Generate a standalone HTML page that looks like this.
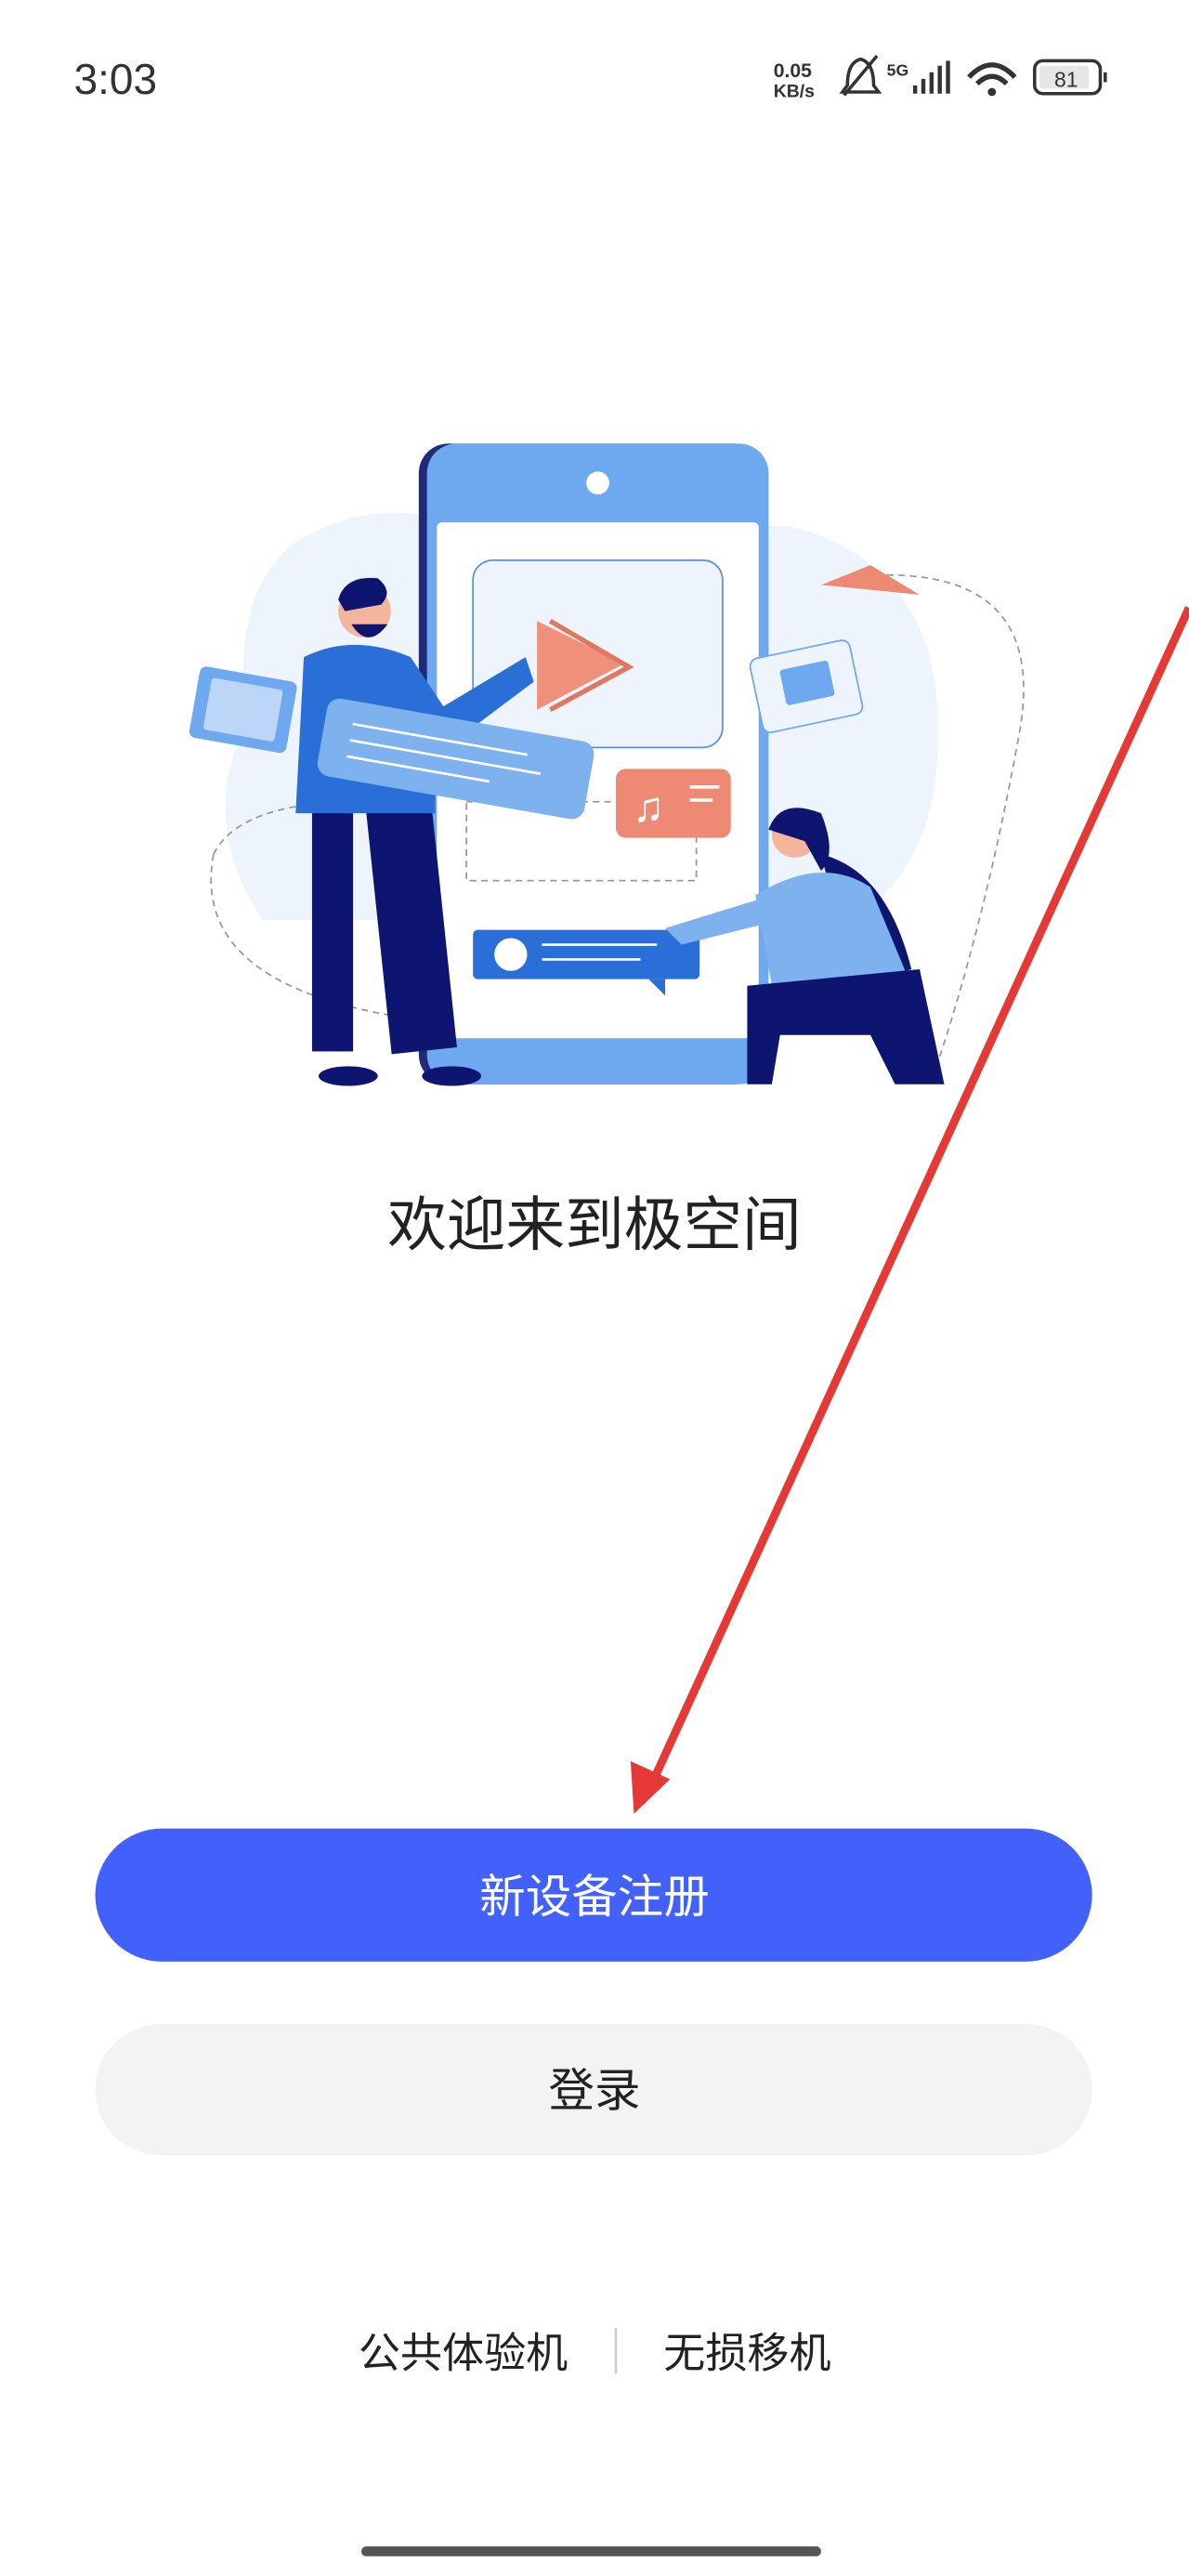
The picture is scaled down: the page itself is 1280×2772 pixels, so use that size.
<!DOCTYPE html>
<html><head><meta charset="utf-8"><style>
html,body{margin:0;padding:0;background:#fff;}
svg{display:block;}
text{font-family:"Liberation Sans","Noto Sans CJK SC",sans-serif;}
</style></head><body>
<svg width="1280" height="2772" viewBox="0 0 724 1568" xmlns="http://www.w3.org/2000/svg">
<rect width="724" height="1568" fill="#fff"/>
<text x="45" y="57" font-size="26" fill="#333">3:03</text>
<text x="471" y="47" font-size="12" font-weight="bold" fill="#333">0.05</text>
<text x="471" y="59" font-size="11" font-weight="bold" fill="#333">KB/s</text>
<path d="M516 52 Q516 38 524 36 Q532 38 532 52 L535 56 L513 56 Z" fill="none" stroke="#333" stroke-width="2"/>
<line x1="514" y1="58" x2="534" y2="34" stroke="#333" stroke-width="2"/>
<text x="540" y="46" font-size="10" font-weight="bold" fill="#333">5G</text>
<rect x="556" y="52" width="2.5" height="5" fill="#333"/><rect x="561" y="48" width="2.5" height="9" fill="#333"/><rect x="566" y="44" width="2.5" height="13" fill="#333"/><rect x="571" y="40" width="2.5" height="17" fill="#333"/><rect x="576" y="37" width="2.5" height="20" fill="#333"/>
<path d="M590 47 Q604 32 618 47" fill="none" stroke="#333" stroke-width="3"/><path d="M595 51 Q604 42 613 51" fill="none" stroke="#333" stroke-width="3"/><circle cx="604" cy="56" r="2.5" fill="#333"/>
<rect x="630" y="37" width="40" height="20" rx="5" fill="none" stroke="#333" stroke-width="2"/>
<rect x="633" y="40" width="30" height="14" rx="2" fill="#e6e6e6"/>
<text x="642" y="53" font-size="13" fill="#333">81</text>
<rect x="672" y="44" width="2" height="6" fill="#333"/>
<path d="M180 330 Q230 300 280 320 L480 320 Q560 340 570 420 Q580 520 520 560 L160 560 Q120 500 150 440 Q140 360 180 330Z" fill="#eef4fc"/>
<path d="M130 520 Q150 480 260 490 M130 520 Q115 600 250 620" fill="none" stroke="#999" stroke-dasharray="4 3"/>
<path d="M540 350 Q640 350 620 450 Q600 560 570 650" fill="none" stroke="#999" stroke-dasharray="4 3"/>
<rect x="255" y="270" width="210" height="390" rx="18" fill="#1f2a7a"/>
<rect x="260" y="270" width="208" height="390" rx="18" fill="#6ea8ef"/>
<rect x="266" y="318" width="196" height="314" rx="3" fill="#fff"/>
<circle cx="364" cy="294" r="7" fill="#fff"/>
<rect x="288" y="341" width="152" height="114" rx="12" fill="#eef4fc" stroke="#5b8fd8"/>
<path d="M327 378 L380 404 L327 432 Z" fill="#f0907a"/>
<path d="M335 378 L383 406 L335 432" fill="none" stroke="#e07860" stroke-width="3"/>
<rect x="284" y="488" width="140" height="48" fill="none" stroke="#999" stroke-dasharray="4 3"/>
<rect x="375" y="468" width="70" height="42" rx="6" fill="#ee8a74"/>
<text x="385" y="500" font-size="26" fill="#fff">♫</text>
<rect x="420" y="478" width="18" height="2" fill="#fff"/><rect x="420" y="486" width="14" height="2" fill="#fff"/>
<rect x="118" y="410" width="60" height="44" rx="4" fill="#6ea8ef" transform="rotate(10 148 432)"/>
<rect x="126" y="416" width="44" height="32" rx="2" fill="#bcd6f7" transform="rotate(10 148 432)"/>
<rect x="460" y="395" width="62" height="46" rx="5" fill="#eef4fc" stroke="#6ea8ef" transform="rotate(-12 490 418)"/>
<rect x="477" y="405" width="30" height="22" rx="2" fill="#6ea8ef" transform="rotate(-12 490 418)"/>
<path d="M500 356 L560 362 L530 344 Z" fill="#ee8a74"/>
<rect x="190" y="480" width="25" height="160" fill="#0d1570"/>
<rect x="230" y="480" width="40" height="160" fill="#0d1570" transform="rotate(-6 250 560)"/>
<ellipse cx="212" cy="655" rx="18" ry="6" fill="#0d1570"/>
<ellipse cx="275" cy="655" rx="18" ry="6" fill="#0d1570"/>
<path d="M185 400 Q215 385 250 400 L270 430 L320 400 L325 415 L265 460 L265 495 L180 495 Z" fill="#2a6fd8"/>
<circle cx="222" cy="372" r="16" fill="#f3b59c"/>
<path d="M206 365 Q210 350 230 352 Q240 360 232 368 L210 372Z" fill="#0d1570"/>
<path d="M214 380 Q224 396 236 380 Z" fill="#0d1570"/>
<rect x="195" y="438" width="165" height="48" rx="8" fill="#7eb2ef" transform="rotate(10 278 462)"/>
<g stroke="#fff" stroke-width="1.5" transform="rotate(10 278 462)"><line x1="212" y1="452" x2="320" y2="452"/><line x1="212" y1="462" x2="330" y2="462"/><line x1="212" y1="472" x2="300" y2="472"/></g>
<rect x="288" y="566" width="138" height="30" rx="3" fill="#2a6fd8"/>
<circle cx="311" cy="581" r="10" fill="#fff"/>
<line x1="330" y1="575" x2="400" y2="575" stroke="#fff" stroke-width="1.5"/><line x1="330" y1="584" x2="390" y2="584" stroke="#fff" stroke-width="1.5"/>
<path d="M395 596 L405 606 L405 596Z" fill="#2a6fd8"/>
<path d="M500 520 Q540 530 555 590 L520 600 Z" fill="#0d1570"/>
<path d="M460 545 Q500 520 530 540 L555 600 L470 600 Z" fill="#7eb2ef"/>
<path d="M405 565 L470 545 L475 560 L415 575Z" fill="#7eb2ef"/>
<circle cx="484" cy="508" r="14" fill="#f3b59c"/>
<path d="M468 505 Q475 485 500 495 Q510 520 500 530 L490 512Z" fill="#0d1570"/>
<path d="M455 600 L560 590 L575 660 L545 660 L530 630 L475 630 L470 660 L455 660Z" fill="#0d1570"/>
<text x="362" y="758" font-size="36" fill="#222" text-anchor="middle">欢迎来到极空间</text>
<rect x="58" y="1113" width="607" height="81" rx="40.5" fill="#4260fa"/>
<text x="362" y="1164" font-size="28" fill="#fff" text-anchor="middle">新设备注册</text>
<rect x="58" y="1232" width="607" height="80" rx="40" fill="#f3f3f3"/>
<text x="362" y="1282" font-size="28" fill="#222" text-anchor="middle">登录</text>
<text x="282" y="1441" font-size="25.5" fill="#222" text-anchor="middle">公共体验机</text>
<line x1="375" y1="1417" x2="375" y2="1445" stroke="#ccc" stroke-width="1.5"/>
<text x="455" y="1441" font-size="25.5" fill="#222" text-anchor="middle">无损移机</text>
<rect x="220" y="1550" width="280" height="6" rx="3" fill="#555"/>
<line x1="724" y1="370" x2="395" y2="1090" stroke="#e53935" stroke-width="5"/>
<path d="M386 1104 L384 1072 L408 1083 Z" fill="#e53935"/>
</svg>
</body></html>
